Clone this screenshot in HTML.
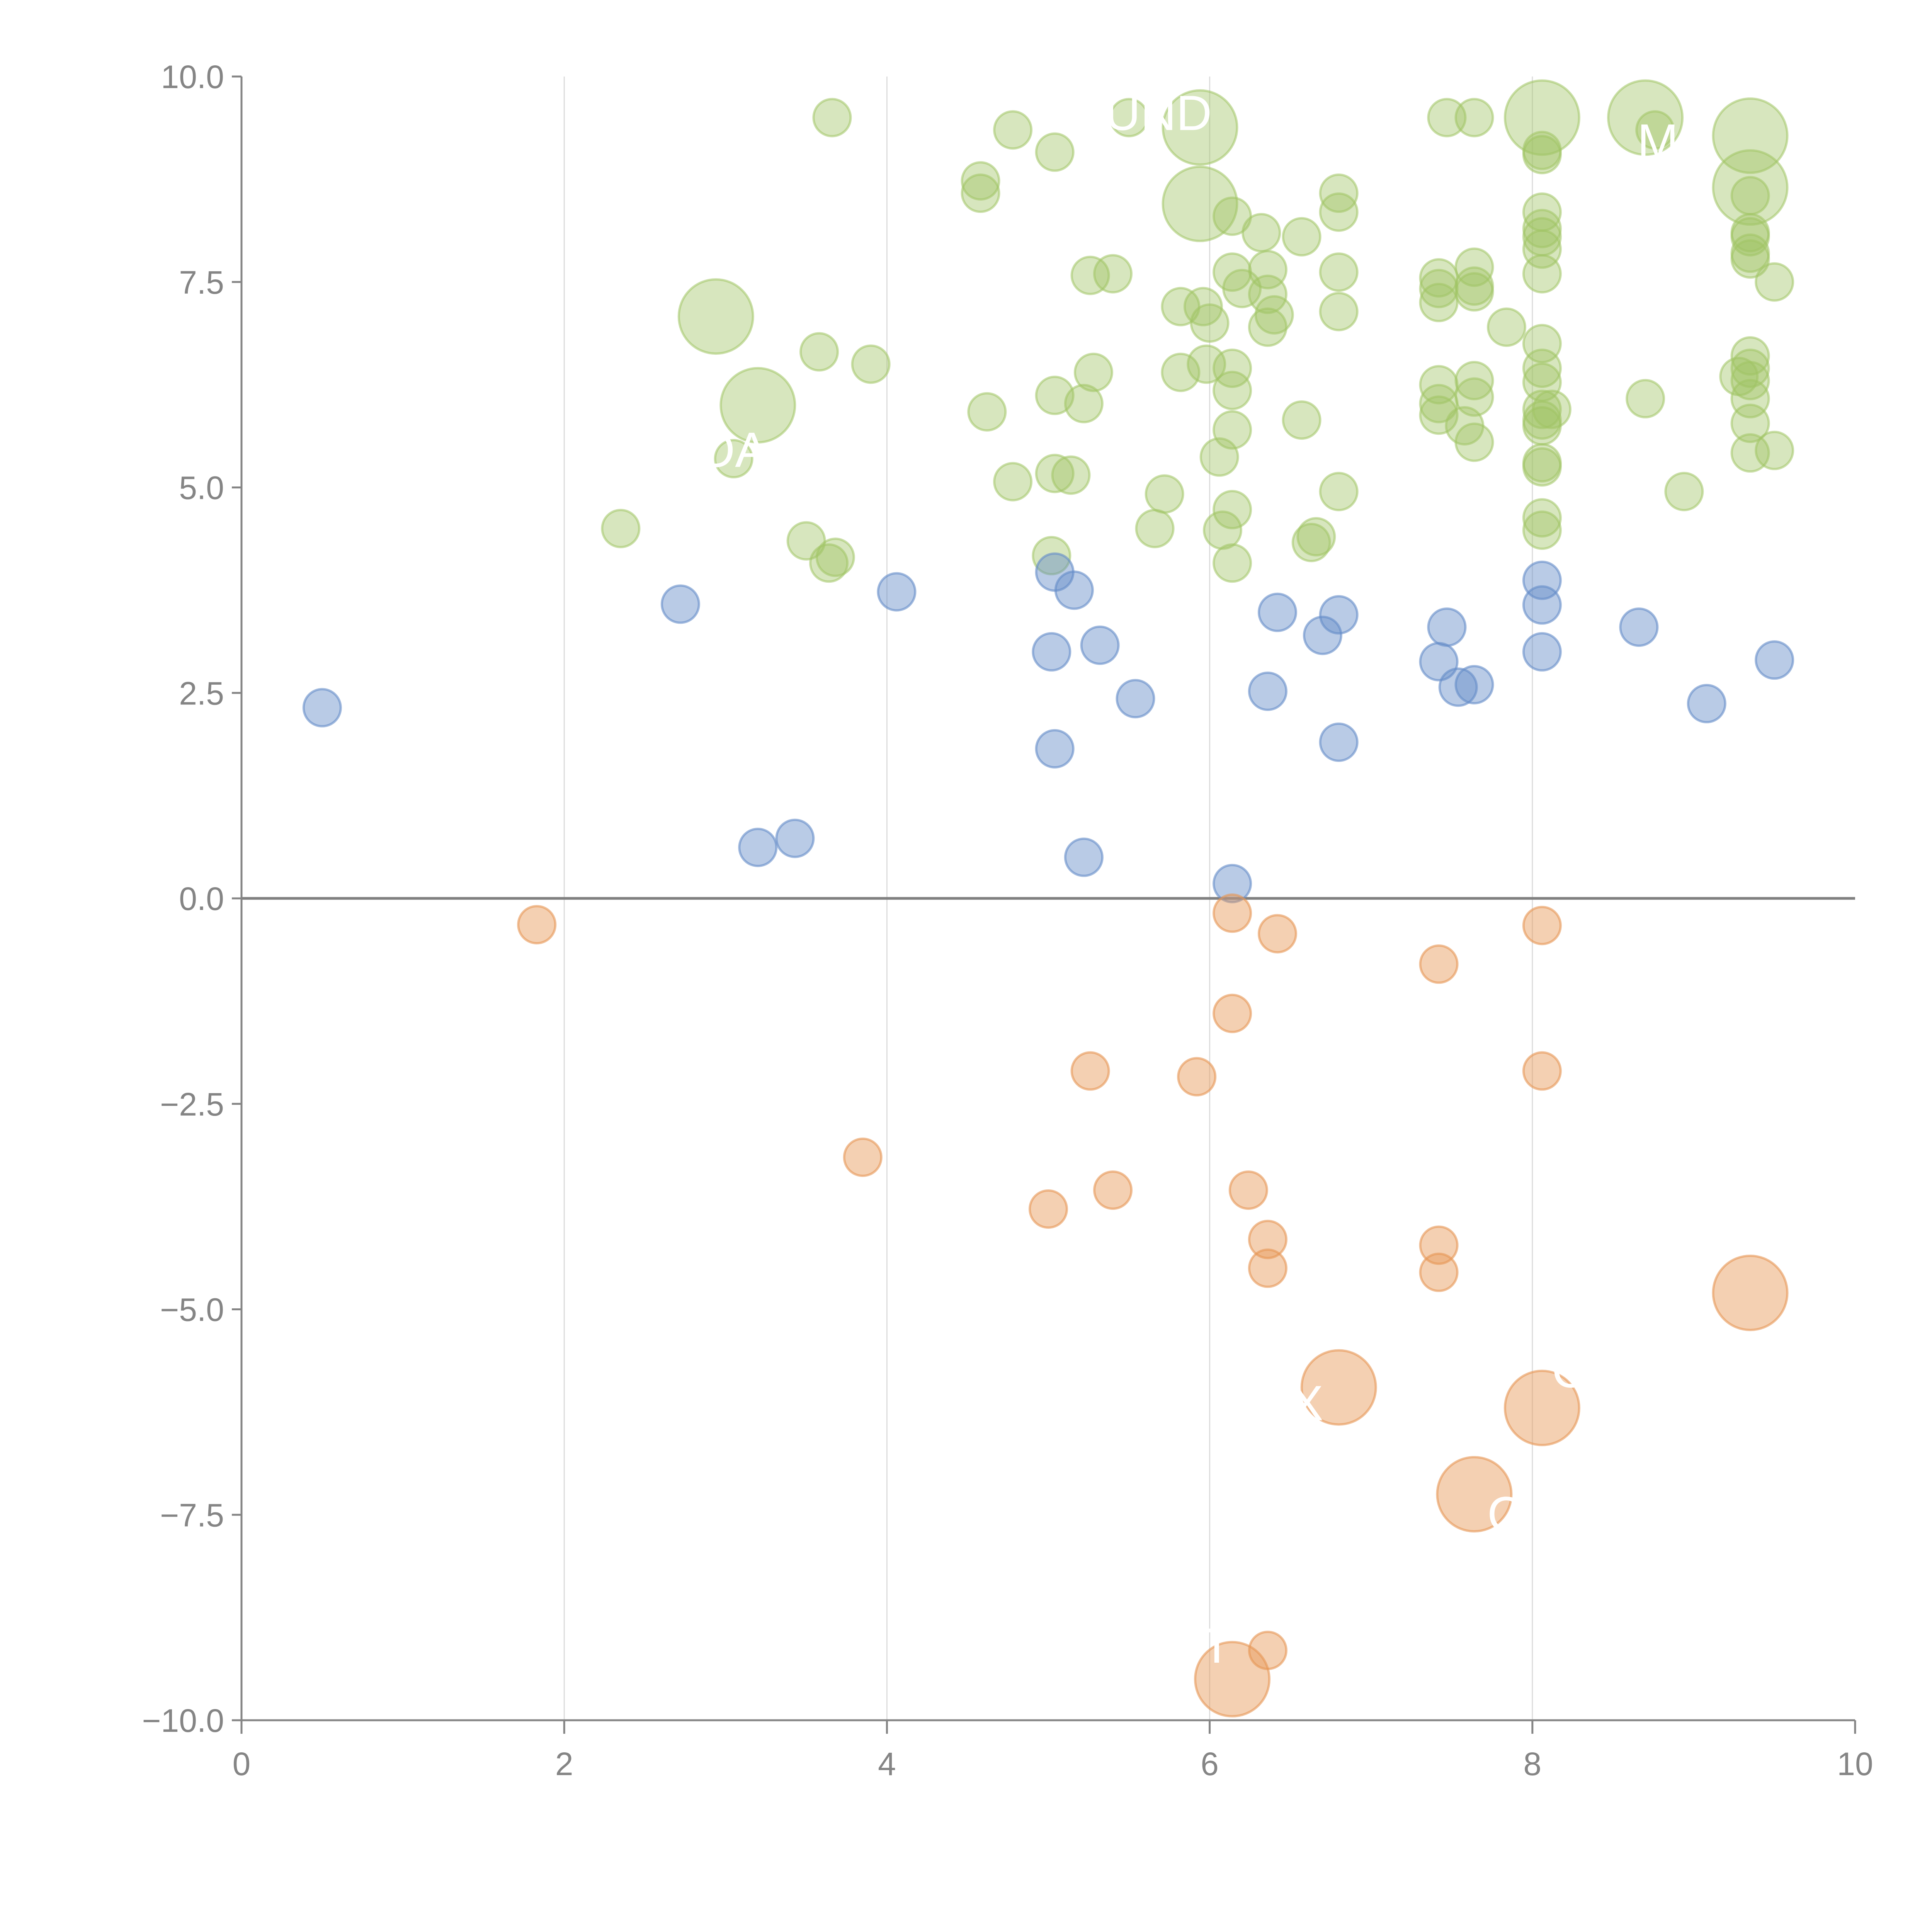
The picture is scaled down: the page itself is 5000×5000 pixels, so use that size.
<!DOCTYPE html>
<html><head><meta charset="utf-8"><style>
html,body{margin:0;padding:0;background:#fff;}
svg{display:block;font-family:"Liberation Sans",Arial,sans-serif;}
</style></head><body>
<svg id="chart" width="5000" height="5000" viewBox="0 0 5000 5000"></svg>
<script>
const greenX=[3.66,4.78,5.04,4.58,4.58,5.5,5.94,7.47,7.64,8.06,8.7,8.76,9.35,9.35,8.06,8.06,9.35,5.94,6.14,6.32,6.57,6.8,6.8,8.06,8.06,8.06,8.06,9.35,9.35,9.35,9.35,2.94,5.26,5.4,6.14,6.2,6.36,6.36,6.4,6.36,6.8,6.8,7.42,7.42,7.42,7.64,7.64,7.64,7.84,8.06,9.5,5.82,5.96,6.0,3.58,3.9,3.2,4.62,5.04,5.22,5.28,5.82,5.98,6.14,6.14,6.57,7.42,7.42,7.42,7.64,7.64,7.58,7.64,8.06,8.06,8.06,8.06,8.06,8.06,8.12,8.06,8.06,8.7,9.28,9.35,9.35,9.35,9.35,9.35,9.35,9.5,8.94,3.05,4.78,5.04,5.14,5.72,6.14,6.06,6.14,6.08,6.14,6.63,6.66,6.8,5.66,2.35,3.5,3.64,3.68,5.02,8.06,8.06];
const greenY=[9.5,9.35,9.08,8.73,8.58,9.5,9.38,9.5,9.5,9.5,9.5,9.35,9.28,8.65,9.05,9.1,8.55,8.45,8.3,8.1,8.05,8.58,8.35,8.35,8.15,8.05,7.9,8.1,8.05,7.85,7.78,7.08,7.58,7.6,7.62,7.42,7.65,7.35,7.1,6.95,7.62,7.14,7.55,7.42,7.25,7.68,7.45,7.38,6.95,7.6,7.5,7.2,7.2,7.0,6.65,6.5,6.0,5.92,6.12,6.02,6.4,6.4,6.5,6.45,6.18,5.82,6.25,6.02,5.88,6.3,6.1,5.75,5.55,6.75,6.45,6.28,5.95,5.82,5.75,5.95,5.3,5.25,6.08,6.35,6.6,6.45,6.3,6.08,5.78,5.42,5.45,4.95,5.35,5.07,5.17,5.15,4.92,5.7,5.37,4.73,4.48,4.08,4.33,4.4,4.95,4.5,4.5,4.35,4.08,4.15,4.17,4.63,4.48];
const greenS=[1,1,1,1,1,1,2,1,1,2,2,1,2,2,1,1,1,2,1,1,1,1,1,1,1,1,1,1,1,1,1,2,1,1,1,1,1,1,1,1,1,1,1,1,1,1,1,1,1,1,1,1,1,1,1,1,2,1,1,1,1,1,1,1,1,1,1,1,1,1,1,1,1,1,1,1,1,1,1,1,1,1,1,1,1,1,1,1,1,1,1,1,1,1,1,1,1,1,1,1,1,1,1,1,1,1,1,1,1,1,1,1,1];
const blueX=[0.5,2.72,4.06,5.04,5.16,5.02,5.32,5.54,5.04,3.2,3.43,5.22,6.14,6.42,6.36,6.7,6.8,6.8,7.42,7.47,7.54,7.64,8.06,8.06,8.06,8.66,9.08,9.5];
const blueY=[2.32,3.58,3.73,3.97,3.75,3.0,3.08,2.43,1.82,0.62,0.73,0.5,0.18,3.48,2.52,3.2,3.45,1.9,2.88,3.3,2.57,2.6,3.87,3.57,3.0,3.3,2.37,2.9];
const orangeX=[1.83,6.14,6.42,7.42,8.06,6.14,5.26,5.92,8.06,3.85,5.0,5.4,6.24,6.36,6.36,7.42,7.42,9.35,6.8,8.06,7.64,6.36,6.14];
const orangeY=[-0.32,-0.18,-0.43,-0.8,-0.33,-1.4,-2.1,-2.17,-2.1,-3.15,-3.78,-3.55,-3.55,-4.15,-4.5,-4.22,-4.55,-4.8,-5.95,-6.2,-7.25,-9.15,-9.5];
const orangeS=[1,1,1,1,1,1,1,1,1,1,1,1,1,1,1,1,1,2,2,2,2,1,2];
const xTicks=[0,2,4,6,8,10];
const yTicks=[-10,-7.5,-5,-2.5,0,2.5,5,7.5,10];
const yTickLabels=["\u221210.0","\u22127.5","\u22125.0","\u22122.5","0.0","2.5","5.0","7.5","10.0"];
const labelText=["UND","MA","OA","X","C","C","T"];
const labelX=[5.35,8.65,2.82,6.5,8.12,7.72,5.95];
const labelY=[9.35,9.0,5.25,-6.35,-5.95,-7.7,-9.3];

const NS="http://www.w3.org/2000/svg";
const svg=document.getElementById('chart');
const X0=625,X1=4801,Y0=4452,Y1=198;
function sx(v){return X0+(v-0)/10*(X1-X0);}
function sy(v){return Y0-(v+10)/20*(Y0-Y1);}
function mk(tag,attrs,parent){const e=document.createElementNS(NS,tag);for(const k in attrs)e.setAttribute(k,attrs[k]);(parent||svg).appendChild(e);return e;}

xTicks.forEach(t=>{if(t>0&&t<10){const g=mk('line',{x1:sx(t),x2:sx(t),y1:Y1,y2:Y0,stroke:'#dcdcdc','stroke-width':3});

}});
const z=mk('line',{x1:X0,x2:X1,y1:sy(0),y2:sy(0),stroke:'#808080','stroke-width':7});



function series(xs,ys,ss,fill,stroke,name){
  xs.forEach((x,i)=>{const r=(ss&&ss[i]===2)?96:48;
    const c=mk('circle',{cx:sx(x),cy:sy(ys[i]),r:r,fill:fill,stroke:stroke,'stroke-width':6});
    
    });
}
series(greenX,greenY,greenS,'rgba(160,196,100,0.42)','rgba(160,196,100,0.55)','green-bubble');
series(blueX,blueY,null,'rgba(100,140,200,0.45)','rgba(100,140,200,0.6)','blue-bubble');
series(orangeX,orangeY,orangeS,'rgba(230,150,85,0.45)','rgba(230,150,85,0.6)','orange-bubble');

labelText.forEach((t,i)=>{const e=mk('text',{x:sx(labelX[i]),y:sy(labelY[i]),fill:'#fff','font-size':128});
e.textContent=t;

});

const ax=mk('line',{x1:X0,x2:X0,y1:Y1,y2:Y0+35,stroke:'#858585','stroke-width':5});


const bx=mk('line',{x1:X0-25,x2:X1,y1:Y0,y2:Y0,stroke:'#858585','stroke-width':5});


xTicks.forEach(t=>{mk('line',{x1:sx(t),x2:sx(t),y1:Y0,y2:Y0+35,stroke:'#858585','stroke-width':5});
const l=mk('text',{x:sx(t),y:Y0+142,'text-anchor':'middle',fill:'#858585','font-size':84});
l.textContent=String(t);

});
yTicks.forEach((t,i)=>{mk('line',{x1:X0-25,x2:X0,y1:sy(t),y2:sy(t),stroke:'#858585','stroke-width':5});
const l=mk('text',{x:X0-45,y:sy(t)+30,'text-anchor':'end',fill:'#858585','font-size':84});
l.textContent=yTickLabels[i];

});
</script>
</body></html>
